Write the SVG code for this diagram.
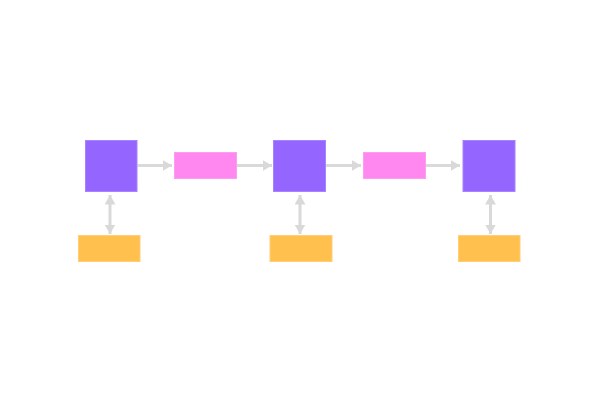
<svg xmlns="http://www.w3.org/2000/svg" width="601" height="404" viewBox="0 0 601 404">
<style>
.step{fill:#9466ff;stroke:#a882ff;stroke-width:1}
.link{fill:#ff88f0;stroke:#ff9cf2;stroke-width:1}
.note{fill:#ffc04d;stroke:#ffcf78;stroke-width:1}
.conn{stroke:#d9d9d9;stroke-width:3;fill:none}
</style>
<defs>
<marker id="ah" viewBox="0 0 9.5 11" refX="9.5" refY="5.5" markerWidth="9.5" markerHeight="11" markerUnits="userSpaceOnUse" orient="auto-start-reverse">
<path d="M0,0 L9.5,5.5 L0,11 Z" fill="#d9d9d9"/>
</marker>
</defs>
<rect width="601" height="404" fill="#ffffff"/>
<g id="connectors">
<line class="conn" x1="137.5" y1="165.5" x2="172" y2="165.5" marker-end="url(#ah)"/>
<line class="conn" x1="236.5" y1="165.5" x2="272" y2="165.5" marker-end="url(#ah)"/>
<line class="conn" x1="326" y1="165.5" x2="361" y2="165.5" marker-end="url(#ah)"/>
<line class="conn" x1="425.5" y1="165.5" x2="460" y2="165.5" marker-end="url(#ah)"/>
<line class="conn" x1="110" y1="195" x2="110" y2="234" marker-start="url(#ah)" marker-end="url(#ah)"/>
<line class="conn" x1="300" y1="195" x2="300" y2="234" marker-start="url(#ah)" marker-end="url(#ah)"/>
<line class="conn" x1="490.5" y1="195" x2="490.5" y2="234" marker-start="url(#ah)" marker-end="url(#ah)"/>
</g>
<g id="step1"><rect class="step" x="85.5" y="140.5" width="51.5" height="51"/></g>
<g id="link1"><rect class="link" x="174.5" y="152.5" width="62" height="26"/></g>
<g id="step2"><rect class="step" x="273.5" y="140.5" width="52" height="51"/></g>
<g id="link2"><rect class="link" x="363.5" y="152.5" width="62" height="26"/></g>
<g id="step3"><rect class="step" x="463" y="140.5" width="52" height="51"/></g>
<g id="note1"><rect class="note" x="78.5" y="235.5" width="61.5" height="26"/></g>
<g id="note2"><rect class="note" x="270" y="235.5" width="62" height="26"/></g>
<g id="note3"><rect class="note" x="458.5" y="235.5" width="61.5" height="26"/></g>
</svg>
